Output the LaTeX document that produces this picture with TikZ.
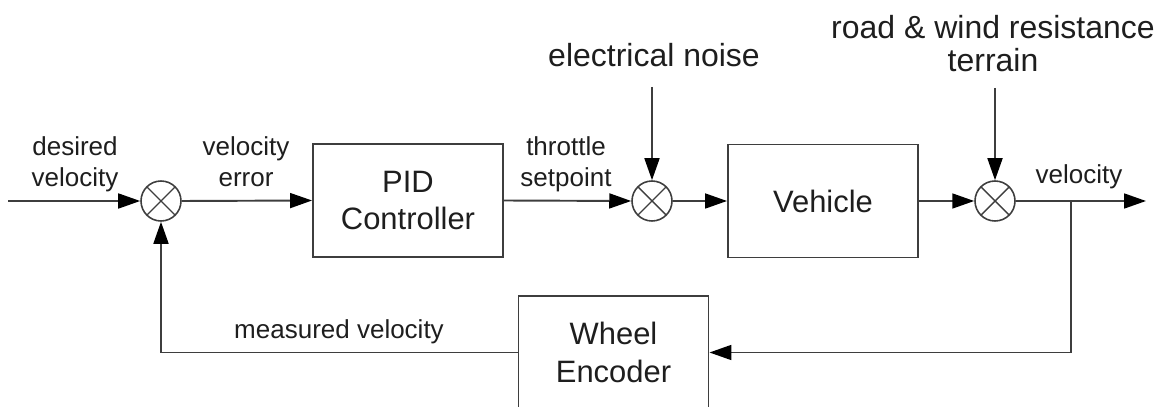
\documentclass[tikz,border=0pt]{standalone}
\usepackage{fontspec}
\setmainfont{Liberation Sans}
\usetikzlibrary{arrows.meta,positioning}
\definecolor{wiregray}{RGB}{62,62,62}
\definecolor{inkgray}{RGB}{30,30,30}
\tikzset{
  blocknode/.style={draw=wiregray, line width=1.1pt, minimum width=3.8cm,
    minimum height=2.26cm, align=center, text=inkgray,
    font=\fontsize{17.6}{21.6}\selectfont},
  sumnode/.style={circle, draw=wiregray, line width=0.9pt, minimum size=0.8cm,
    inner sep=0pt,
    path picture={\draw[wiregray, line width=0.8pt]
      (path picture bounding box.south west) -- (path picture bounding box.north east)
      (path picture bounding box.north west) -- (path picture bounding box.south east);}},
  sigtext/.style={align=center, inner sep=0pt, text=inkgray,
    font=\fontsize{14.8}{17.6}\selectfont},
  disttext/.style={align=center, inner sep=0pt, text=inkgray,
    font=\fontsize{18.2}{18.8}\selectfont},
  flow/.style={-{Triangle[length=12.5pt,width=8.5pt,color=black]}, line width=1.1pt, draw=wiregray},
  wire/.style={line width=1.1pt, draw=wiregray},
}

\begin{document}
\begin{tikzpicture}
  \useasboundingbox (0,0) rectangle (23.38,8.14);

  %% ---- forward path ----
  \coordinate (vin) at (0.16,4.12);
  \node[sumnode] (sumerr) at (3.22,4.12) {};
  \node[blocknode] (pid) at (8.16,4.13) {PID\\Controller};
  \node[sumnode] (sumnoise) at (13.04,4.12) {};
  \node[blocknode] (vehicle) at (16.46,4.12) {Vehicle};
  \node[sumnode] (sumroad) at (19.9,4.12) {};
  \coordinate (tap) at (21.42,4.12);
  \coordinate (vout) at (22.92,4.12);

  \draw[flow] (vin) -- (sumerr.west);
  \draw[flow] (sumerr.east) -- (pid.west);
  \draw[flow] (pid.east) -- (sumnoise.west);
  \draw[flow] (sumnoise.east) -- (vehicle.west);
  \draw[flow] (vehicle.east) -- (sumroad.west);
  \draw[flow] (sumroad.east) -- (vout);

  %% ---- disturbances ----
  \coordinate (noisetop) at (13.04,6.4);
  \coordinate (roadtop) at (19.9,6.38);
  \draw[flow] (noisetop) -- (sumnoise.north);
  \draw[flow] (roadtop) -- (sumroad.north);
  \node[disttext, anchor=base] (noiselbl) at (13.08,6.8) {electrical noise};
  \node[disttext, anchor=base] (roadlbl) at (19.86,6.7) {road \& wind resistance\\terrain};

  %% ---- feedback ----
  \node[blocknode] (encoder) at (12.27,1.09) {Wheel\\Encoder};
  \draw[flow] (tap) |- (encoder.east);
  \draw[flow] (encoder.west) -| (sumerr.south);

  %% ---- signal labels ----
  \node[sigtext, anchor=base] (desiredlbl) at (1.5,4.41) {desired\\velocity};
  \node[sigtext, anchor=base] (errlbl) at (4.92,4.41) {velocity\\error};
  \node[sigtext, anchor=base] (throttlelbl) at (11.32,4.41) {throttle\\setpoint};
  \node[sigtext, anchor=base] (outlbl) at (21.58,4.47) {velocity};
  \node[sigtext, anchor=base] (measlbl) at (6.78,1.36) {measured velocity};
\end{tikzpicture}
\end{document}
